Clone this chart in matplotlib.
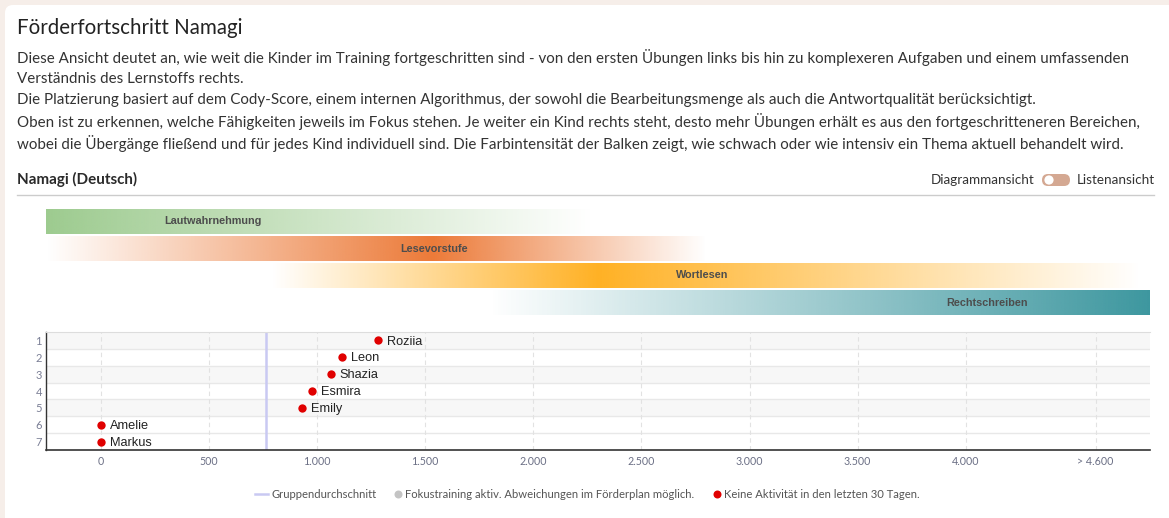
import numpy as np
import matplotlib
matplotlib.use("Agg")
import matplotlib.pyplot as plt
from matplotlib.patches import FancyBboxPatch
from matplotlib.colors import to_rgb

W, H = 1169, 518

# --- data ---
title = "Förderfortschritt Namagi"
intro = [
    "Diese Ansicht deutet an, wie weit die Kinder im Training fortgeschritten sind - von den ersten Übungen links bis hin zu komplexeren Aufgaben und einem umfassenden",
    "Verständnis des Lernstoffs rechts.",
    "Die Platzierung basiert auf dem Cody-Score, einem internen Algorithmus, der sowohl die Bearbeitungsmenge als auch die Antwortqualität berücksichtigt.",
    "Oben ist zu erkennen, welche Fähigkeiten jeweils im Fokus stehen. Je weiter ein Kind rechts steht, desto mehr Übungen erhält es aus den fortgeschritteneren Bereichen,",
    "wobei die Übergänge fließend und für jedes Kind individuell sind. Die Farbintensität der Balken zeigt, wie schwach oder wie intensiv ein Thema aktuell behandelt wird.",
]
subtitle = "Namagi (Deutsch)"

topics = ["Lautwahrnehmung", "Lesevorstufe", "Wortlesen", "Rechtschreiben"]
topic_colors = ["#9dcb8f", "#ec7a38", "#ffb124", "#3d979f"]
# intensity stops along the score axis: (score, intensity)
topic_stops = [
    [(-254, 1.0), (2270, 0.0)],
    [(-254, 0.0), (1535, 1.0), (2800, 0.0)],
    [(790, 0.0), (2300, 1.0), (4810, 0.0)],
    [(1800, 0.0), (4852, 1.0)],
]
topic_label_x = [520, 1540, 2780, 4100]

kids = ["Roziia", "Leon", "Shazia", "Esmira", "Emily", "Amelie", "Markus"]
scores = [1280, 1117, 1062, 974, 931, 0, 0]
rank = [1, 2, 3, 4, 5, 6, 7]
group_avg = 763

xticks = [0, 500, 1000, 1500, 2000, 2500, 3000, 3500, 4000, 4600]
xticklabels = ["0", "500", "1.000", "1.500", "2.000", "2.500", "3.000", "3.500", "4.000", "> 4.600"]
xmin, xmax = -254, 4852

legend_items = ["Gruppendurchschnitt",
                "Fokustraining aktiv. Abweichungen im Förderplan möglich.",
                "Keine Aktivität in den letzten 30 Tagen."]

TXT = "Lato"
LBL = "Liberation Sans"


def fx(x):
    return x / W


def fy(y):
    return 1 - y / H


fig = plt.figure(figsize=(W / 100, H / 100), dpi=100)
fig.patch.set_facecolor("#f6eee9")

# card background
bg = fig.add_axes([0, 0, 1, 1])
bg.set_xlim(0, W)
bg.set_ylim(H, 0)
bg.axis("off")
bg.add_patch(FancyBboxPatch((5, 5), 1180, 530, boxstyle="round,pad=0,rounding_size=8",
                            facecolor="white", edgecolor="none"))

# header texts
fig.text(fx(17), fy(28), title, fontsize=14.8, family=TXT, color="#222222", va="center")
for i, line in enumerate(intro):
    fig.text(fx(17), fy(57 + i * 21.6), line, fontsize=10.9, family=TXT, color="#333333", va="center")
fig.text(fx(17), fy(179), subtitle, fontsize=10.9, family=TXT, weight="bold", color="#2a2a2a", va="center")
bg.plot([17, 1154], [194.5, 194.5], color="#cccccc", lw=1)

# toggle
fig.text(fx(1034), fy(180), "Diagrammansicht", fontsize=9.7, family=TXT, color="#333333", va="center", ha="right")
fig.text(fx(1077), fy(180), "Listenansicht", fontsize=9.7, family=TXT, color="#333333", va="center", ha="left")
bg.add_patch(FancyBboxPatch((1042, 174), 28, 12, boxstyle="round,pad=0,rounding_size=6",
                            facecolor="#d4a892", edgecolor="none"))
bg.add_patch(plt.Circle((1049, 180), 4.6, facecolor="white", edgecolor="none"))

# topic gradient bars
bax = fig.add_axes([fx(46), fy(316), (1150 - 46) / W, (316 - 208) / H])
xs = np.linspace(xmin, xmax, 800)
for i, (name, col, stops, lx) in enumerate(zip(topics, topic_colors, topic_stops, topic_label_x)):
    sx = [s[0] for s in stops]
    sv = [s[1] for s in stops]
    alpha = np.interp(xs, sx, sv)
    img = np.zeros((1, len(xs), 4))
    img[0, :, :3] = to_rgb(col)
    img[0, :, 3] = alpha
    bax.imshow(img, extent=(xmin, xmax, i + 0.445, i - 0.445), aspect="auto", interpolation="bilinear")
    bax.text(lx, i, name, fontsize=7.8, family=LBL, weight="bold", color="#4d4d4d", ha="center", va="center")
bax.set_xlim(xmin, xmax)
bax.set_ylim(3.5, -0.5)
bax.axis("off")

# scatter of kids
ax = fig.add_axes([fx(46), fy(450), (1150 - 46) / W, (450 - 332) / H])
ax.set_xlim(xmin, xmax)
ax.set_ylim(7.5, 0.5)
for r in rank:
    if r in (1, 3, 5):
        ax.axhspan(r - 0.5, r + 0.5, color="#f7f7f7", zorder=0, lw=0)
    if r < 7:
        ax.axhline(r + 0.5, color="#e8e8e8", lw=1, zorder=1)
for t in xticks:
    ax.axvline(t, color="#e2e2e2", lw=0.8, ls=(0, (4, 3)), zorder=1)
ax.axvline(group_avg, color="#c9c9f2", lw=1.8, zorder=2)
ax.scatter(scores, rank, s=36, color="#e00000", zorder=4, linewidths=0)
for name, s, r in zip(kids, scores, rank):
    ax.annotate(name, (s, r), xytext=(6.5, -0.8), textcoords="offset points", fontsize=9.2,
                family=LBL, color="#222222", va="center", ha="left", zorder=5)

ax.set_xticks(xticks)
ax.set_xticklabels(xticklabels, fontsize=7.7, family=TXT, color="#6b6f85")
ax.set_yticks(rank)
ax.set_yticklabels([str(r) for r in rank], fontsize=8, family=TXT, color="#7a7e95")
ax.tick_params(axis="x", length=0, pad=4)
ax.tick_params(axis="y", length=0, pad=3)
ax.spines["top"].set_color("#dddddd")
ax.spines["right"].set_visible(False)
ax.spines["left"].set_color("#333333")
ax.spines["bottom"].set_color("#333333")
ax.spines["left"].set_linewidth(1)
ax.spines["bottom"].set_linewidth(1.2)
ax.set_facecolor("white")

# legend
bg.plot([255, 268], [494, 494], color="#c9c9f2", lw=1.8)
fig.text(fx(271), fy(494), legend_items[0], fontsize=8.1, family=TXT, color="#555555", va="center")
bg.add_patch(plt.Circle((398.5, 494.5), 4, facecolor="#c4c4c4", edgecolor="none"))
fig.text(fx(405), fy(494), legend_items[1], fontsize=8.1, family=TXT, color="#555555", va="center")
bg.add_patch(plt.Circle((717.5, 494.5), 4, facecolor="#e00000", edgecolor="none"))
fig.text(fx(724), fy(494), legend_items[2], fontsize=8.1, family=TXT, color="#555555", va="center")

fig.savefig("out.png", dpi=100)
